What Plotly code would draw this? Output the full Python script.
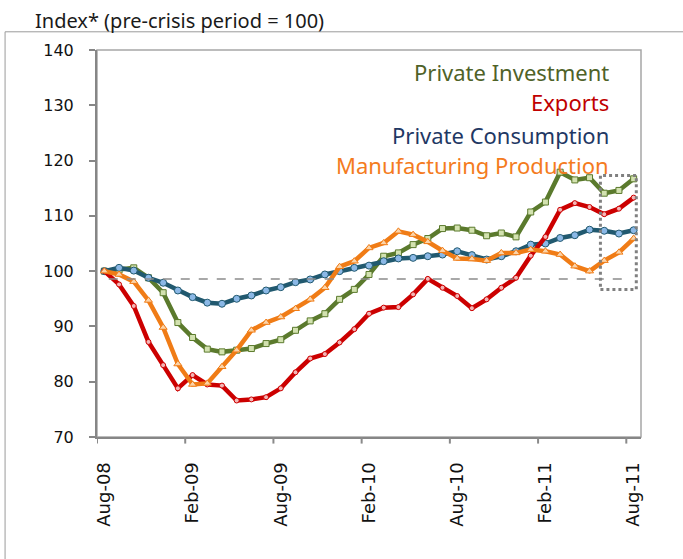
import plotly.graph_objects as go

months = ["Aug-08","Sep-08","Oct-08","Nov-08","Dec-08","Jan-09","Feb-09","Mar-09","Apr-09","May-09","Jun-09","Jul-09",
          "Aug-09","Sep-09","Oct-09","Nov-09","Dec-09","Jan-10","Feb-10","Mar-10","Apr-10","May-10","Jun-10","Jul-10",
          "Aug-10","Sep-10","Oct-10","Nov-10","Dec-10","Jan-11","Feb-11","Mar-11","Apr-11","May-11","Jun-11","Jul-11","Aug-11"]

private_investment = [100, 100.2, 100.6, 98.8, 96.1, 90.7, 88.0, 85.9, 85.4, 85.7, 86.0, 86.9,
                      87.6, 89.3, 91.0, 92.3, 94.9, 96.7, 99.4, 102.7, 103.3, 104.8, 105.9, 107.7,
                      107.8, 107.4, 106.4, 106.9, 106.2, 110.7, 112.5, 117.9, 116.5, 116.9, 114.1, 114.6, 116.7]
exports = [100, 97.6, 93.7, 87.2, 83.0, 78.8, 81.2, 79.5, 79.3, 76.6, 76.8, 77.2,
           78.8, 81.7, 84.2, 85.0, 87.1, 89.5, 92.3, 93.4, 93.5, 95.8, 98.6, 97.0,
           95.5, 93.3, 94.9, 97.0, 98.8, 102.8, 106.2, 111.1, 112.3, 111.6, 110.3, 111.3, 113.3]
private_consumption = [100, 100.6, 100.1, 98.8, 97.9, 96.5, 95.3, 94.3, 94.1, 95.0, 95.6, 96.5,
                       97.1, 98.0, 98.5, 99.4, 100.0, 100.6, 101.0, 101.8, 102.3, 102.4, 102.7, 103.0,
                       103.6, 102.9, 102.1, 102.7, 103.6, 104.8, 105.0, 106.0, 106.5, 107.5, 107.3, 106.8, 107.4]
manufacturing = [100, 99.4, 98.1, 94.7, 89.8, 83.2, 79.5, 79.7, 82.7, 85.7, 89.3, 90.7,
                 91.7, 93.2, 94.9, 97.0, 100.8, 101.8, 104.2, 105.1, 107.2, 106.6, 105.3, 103.7,
                 102.3, 102.2, 101.9, 103.3, 103.3, 103.9, 103.6, 103.0, 100.9, 100.0, 101.9, 103.4, 105.9]

series_names = ["Private Investment", "Exports", "Private Consumption", "Manufacturing Production"]
label_interval = 6
ref_level = 98.6
highlight_box = dict(x0=33.74, x1=36.18, y0=96.7, y1=117.3)

x = list(range(len(months)))

fig = go.Figure()

styles = {
    "Private Investment": dict(data=private_investment, line="#5b7a2d", fill="#d3e2b0", symbol="square", size=6),
    "Private Consumption": dict(data=private_consumption, line="#21596f", fill="#8bb8e6", symbol="circle", size=7),
    "Exports": dict(data=exports, line="#cc0000", fill="#f4b6b6", symbol="circle", size=5),
    "Manufacturing Production": dict(data=manufacturing, line="#f07c16", fill="#fbd3a8", symbol="triangle-up", size=7),
}
for name in ["Private Investment", "Private Consumption", "Exports", "Manufacturing Production"]:
    s = styles[name]
    fig.add_trace(go.Scatter(
        x=x, y=s["data"], mode="lines+markers", name=name,
        line=dict(color=s["line"], width=4.5),
        marker=dict(symbol=s["symbol"], size=s["size"], color=s["fill"], line=dict(color=s["line"], width=1)),
        showlegend=False, hoverinfo="skip"))

shapes = []
# outer chart frame
shapes.append(dict(type="rect", xref="paper", yref="paper", x0=-0.169, x1=1.2, y0=-0.5, y1=1.047,
                   line=dict(color="#9a9a9a", width=1), layer="below"))
# plot area border (top/right)
shapes.append(dict(type="rect", xref="paper", yref="paper", x0=0, x1=1, y0=0, y1=1,
                   line=dict(color="#a6a6a6", width=1.5), layer="below"))
# category boundary tick marks
for k in range(0, len(months), label_interval):
    shapes.append(dict(type="line", xref="x", yref="paper", x0=k - 0.5, x1=k - 0.5, y0=0, y1=-0.017,
                       line=dict(color="#8a8a8a", width=2)))
# reference dashed line
shapes.append(dict(type="line", xref="x", yref="y", x0=0.3, x1=35.5, y0=ref_level, y1=ref_level,
                   line=dict(color="#8c8c8c", width=1.5, dash="dash")))
# dotted highlight box
shapes.append(dict(type="rect", xref="x", yref="y", **highlight_box,
                   line=dict(color="#808080", width=3, dash="dot")))

legend_colors = {"Private Investment": "#4f6228", "Exports": "#c00000",
                 "Private Consumption": "#1f3864", "Manufacturing Production": "#f47b20"}
legend_y = [0.944, 0.8665, 0.7806, 0.703]
annotations = []
for name, yy in zip(series_names, legend_y):
    annotations.append(dict(text=name, xref="paper", yref="paper", x=0.945, y=yy, xanchor="right", yanchor="middle",
                            showarrow=False, font=dict(family="Noto Sans", size=22, color=legend_colors[name])))
annotations.append(dict(text="Index* (pre-crisis period = 100)", xref="paper", yref="paper", x=-0.1175, y=1.0775,
                        xanchor="left", yanchor="middle", showarrow=False,
                        font=dict(family="Noto Sans", size=20, color="#1a1a1a")))

fig.update_layout(
    width=683, height=559,
    margin=dict(l=97, r=42, t=50, b=122),
    paper_bgcolor="white", plot_bgcolor="white",
    shapes=shapes, annotations=annotations,
    xaxis=dict(range=[-0.5, 36.5], tickvals=x[::label_interval], ticktext=months[::label_interval],
               tickangle=-90, ticks="", showgrid=False, zeroline=False,
               showline=True, linecolor="#868686", linewidth=2,
               tickfont=dict(family="DejaVu Sans", size=18, color="#111111"), ticklabelstandoff=16),
    yaxis=dict(range=[70, 140], dtick=10, tick0=70, ticks="outside", ticklen=6, tickcolor="#868686", tickwidth=1.5,
               showgrid=False, zeroline=False, showline=True, linecolor="#868686", linewidth=2,
               tickfont=dict(family="DejaVu Sans", size=16, color="#111111"), ticklabelstandoff=12),
)

fig.write_html("out.html", config={"displayModeBar": False},
               post_script="document.body.style.margin='0';")
